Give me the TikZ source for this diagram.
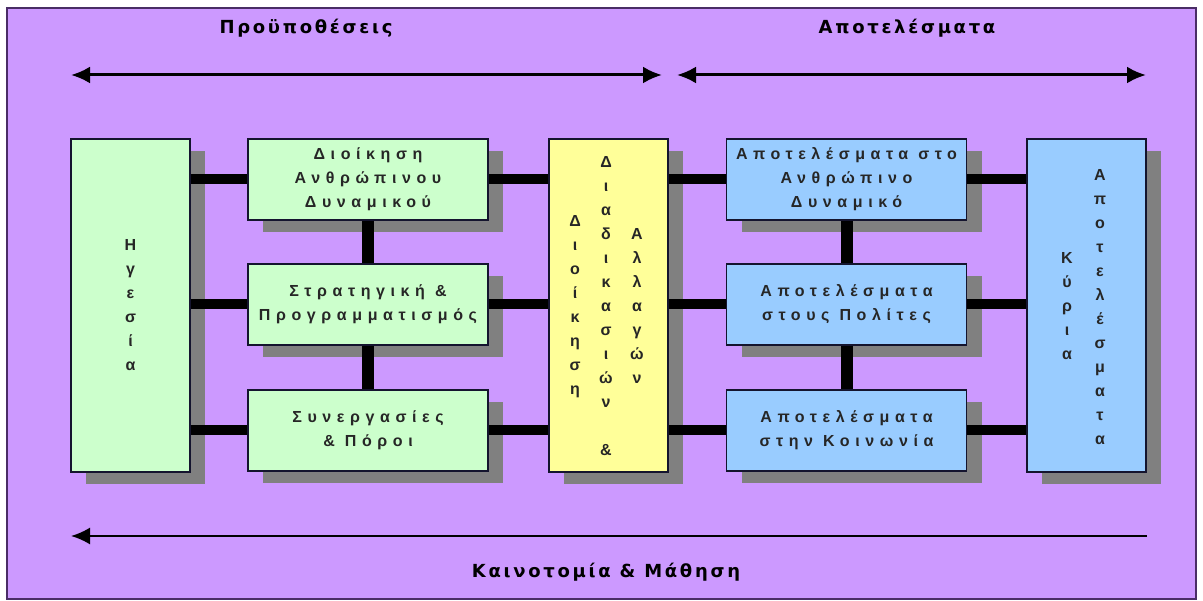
\documentclass[tikz,border=0pt]{standalone}
\usepackage{fontspec}
\setmainfont{Liberation Sans}
\newfontfamily\boxfont{Liberation Sans}[LetterSpace=35]
\newfontfamily\colfont{Liberation Sans}
\newfontfamily\titlefont{DejaVu Sans}[LetterSpace=15]
\usetikzlibrary{arrows.meta,shadows}
\definecolor{bgpurple}{HTML}{CC99FF}
\definecolor{bgedge}{HTML}{4A2D66}
\definecolor{gfill}{HTML}{CCFFCC}
\definecolor{yfill}{HTML}{FFFF99}
\definecolor{bfill}{HTML}{99CCFF}
\definecolor{shadowgray}{HTML}{808080}
\definecolor{boxline}{HTML}{14142E}
\definecolor{boxtext}{HTML}{262626}
\begin{document}
\begin{tikzpicture}[x=1pt,y=-1pt,
  panel/.style={draw=boxline, line width=1.5pt, inner sep=0pt, align=center,
    text=boxtext, font=\boxfont\bfseries\fontsize{16}{24}\selectfont,
    drop shadow={shadow xshift=15pt, shadow yshift=-12pt, fill=shadowgray, opacity=1}},
  tall/.style={panel, minimum width=119pt, minimum height=333pt},
  wide/.style={panel, minimum width=240pt, minimum height=81pt},
  coltext/.style={align=center, inner sep=0pt, text=boxtext, font=\colfont\bfseries\fontsize{16}{24}\selectfont},
  conn/.style={line width=10pt, black},
  vconn/.style={line width=12pt, black},
  title/.style={inner sep=0pt, font=\titlefont\bfseries\fontsize{18}{20}\selectfont, text=black},
  tip/.style={-{Latex[length=19pt,width=17pt]}},
  bothtip/.style={{Latex[length=19pt,width=17pt]}-{Latex[length=19pt,width=17pt]}}
]
\useasboundingbox (0,0) rectangle (1203,601);
\fill[white] (0,0) rectangle (1203,601);
\draw[fill=bgpurple, draw=bgedge, line width=1.5pt] (7,8) rectangle (1196,599);

% boxes
\node[tall, fill=gfill] (lead) at (130.5,305.5) {Η\\γ\\ε\\σ\\ί\\α};
\node[wide, fill=gfill] (m1) at (368,179.5) {Διοίκηση\\Ανθρώπινου\\Δυναμικού};
\node[wide, fill=gfill] (m2) at (368,304.5) {Στρατηγική \&\\Προγραμματισμός};
\node[wide, fill=gfill] (m3) at (368,430.5) {Συνεργασίες\\\& Πόροι};
\node[tall, fill=yfill] (yel) at (608.5,305.5) {};
\node[wide, fill=bfill] (b1) at (846.5,179.5) {Αποτελέσματα στο\\Ανθρώπινο\\Δυναμικό};
\node[wide, fill=bfill] (b2) at (846.5,304.5) {Αποτελέσματα\\στους Πολίτες};
\node[wide, fill=bfill] (b3) at (846.5,430.5) {Αποτελέσματα\\στην Κοινωνία};
\node[tall, fill=bfill] (kyr) at (1086.5,305.5) {};

% vertical texts
\node[coltext] (y1) at (575,307) {Δ\\ι\\ο\\ί\\κ\\η\\σ\\η};
\node[coltext] (y2) at (606,306) {Δ\\ι\\α\\δ\\ι\\κ\\α\\σ\\ι\\ώ\\ν\\[24pt]\&};
\node[coltext] (y3) at (637,306) {Α\\λ\\λ\\α\\γ\\ώ\\ν};
\node[coltext] (k1) at (1067,306) {Κ\\ύ\\ρ\\ι\\α};
\node[coltext] (k2) at (1100,307) {Α\\π\\ο\\τ\\ε\\λ\\έ\\σ\\μ\\α\\τ\\α};

% connectors
\foreach \m in {m1,m2,m3} {
  \draw[conn] (lead.east |- \m.west) -- (\m.west);
  \draw[conn] (\m.east) -- (\m.east -| yel.west);
}
\foreach \b in {b1,b2,b3} {
  \draw[conn] (yel.east |- \b.west) -- (\b.west);
  \draw[conn] (\b.east) -- (\b.east -| kyr.west);
}
\draw[vconn] (m1.south) -- (m2.north);
\draw[vconn] (m2.south) -- (m3.north);
\draw[vconn] (b1.south) -- (b2.north);
\draw[vconn] (b2.south) -- (b3.north);

% arrows
\coordinate (t1l) at (71,75);
\coordinate (t1r) at (662,75);
\coordinate (t2l) at (677,75);
\coordinate (t2r) at (1146,75);
\coordinate (bl) at (71,536);
\coordinate (br) at (1147,536);
\draw[bothtip, line width=3pt, black] (t1l) -- (t1r);
\draw[bothtip, line width=3pt, black] (t2l) -- (t2r);
\draw[tip, line width=2pt, black] (br) -- (bl);

% titles
\node[title] (tpre) at (306,28) {Προϋποθέσεις};
\node[title] (tres) at (907,28) {Αποτελέσματα};
\node[title] (tinn) at (606,572) {Καινοτομία \& Μάθηση};
\end{tikzpicture}
\end{document}
